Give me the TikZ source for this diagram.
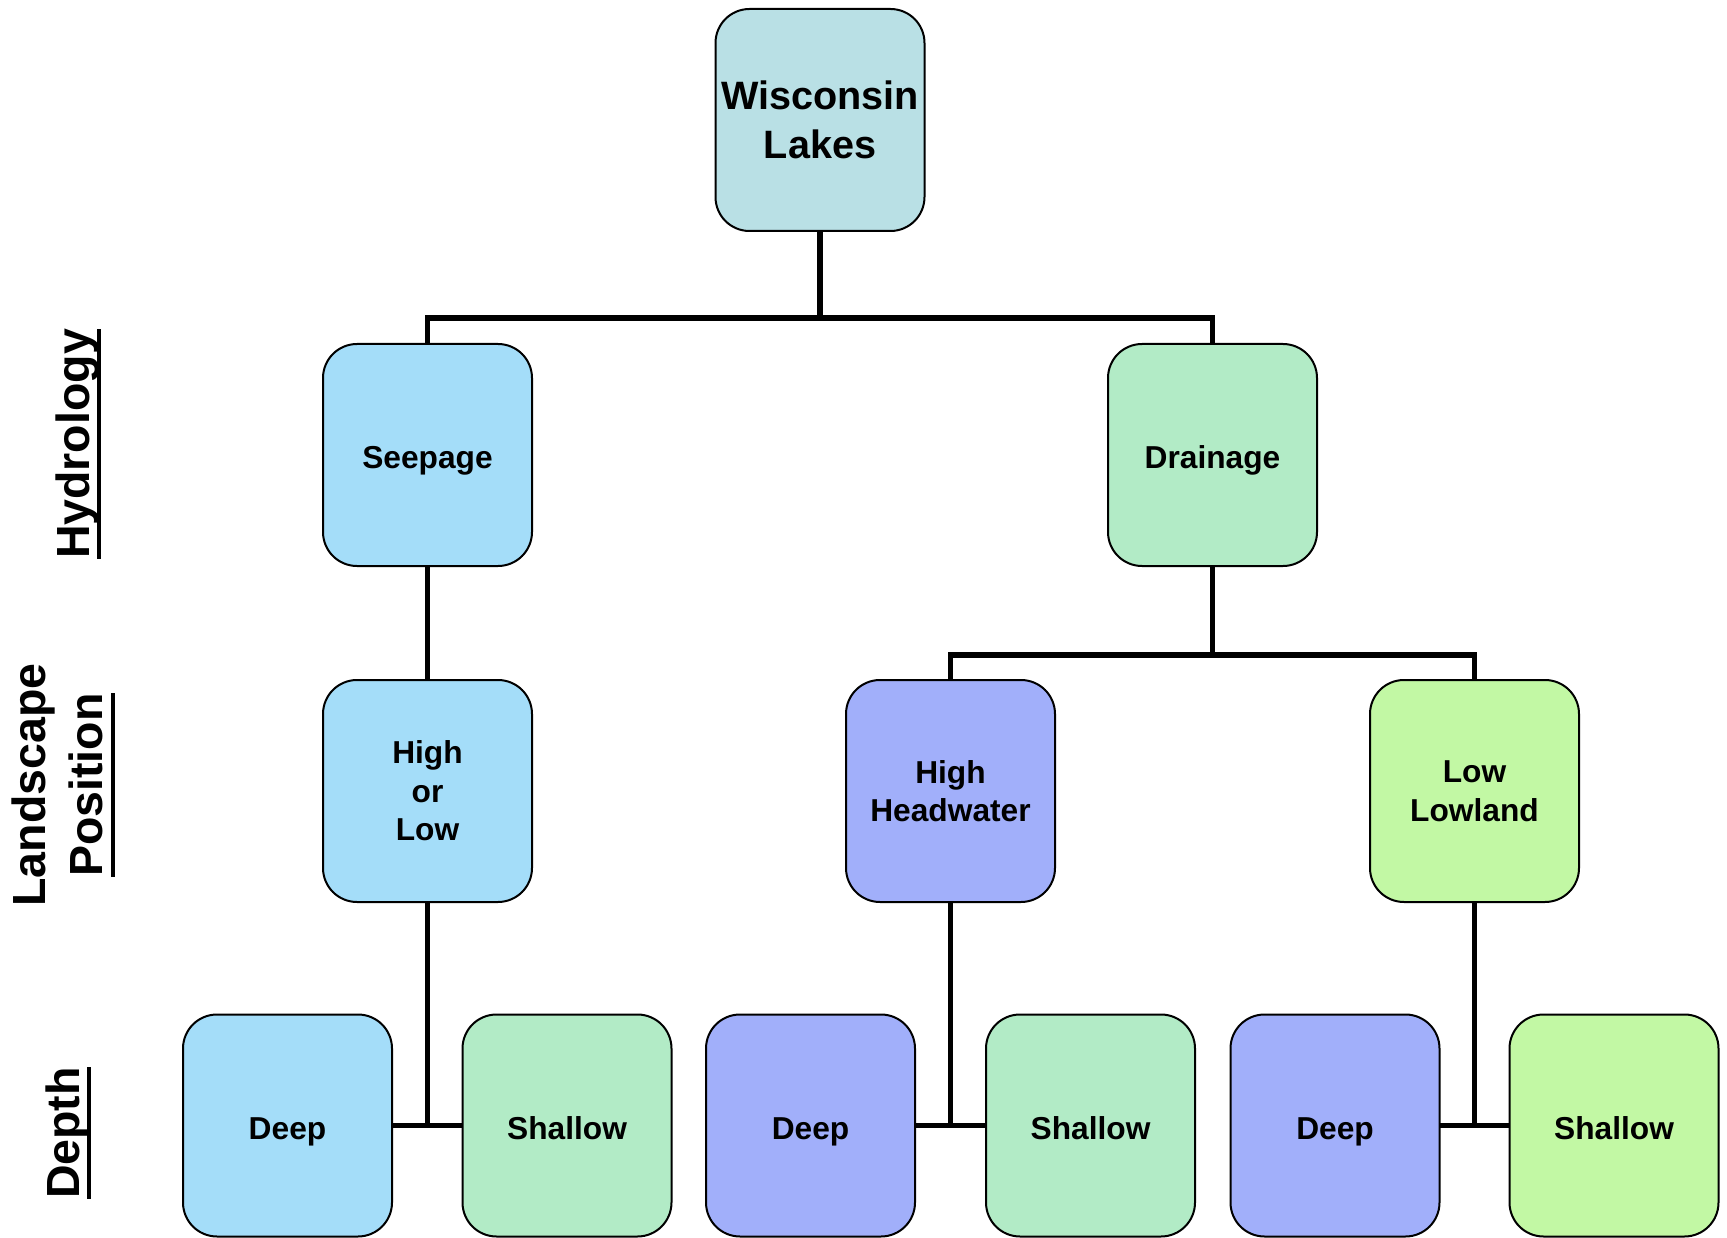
\documentclass[tikz,border=0pt]{standalone}
\usepackage{fontspec}
\setmainfont{Liberation Sans}
\usetikzlibrary{calc}
\definecolor{cWis}{HTML}{B9E0E5}
\definecolor{cSeep}{HTML}{A4DDF9}
\definecolor{cDrain}{HTML}{B2EBC6}
\definecolor{cHigh}{HTML}{A1AFFA}
\definecolor{cLow}{HTML}{C2F8A4}
\newcommand\myul[1]{\setbox0\hbox{#1}\rlap{\rule[-12pt]{\wd0}{4pt}}\box0}
\begin{document}
\begin{tikzpicture}[x=1pt,y=-1pt,
  box/.style={draw=black, line width=2pt, rounded corners=34pt,
    minimum width=209pt, minimum height=222pt, inner sep=0pt, outer sep=0pt,
    align=center, font=\bfseries\fontsize{31.7}{38.5}\selectfont},
  oneline/.style={text height=27.4pt, text depth=0pt},
  conn/.style={line width=5.5pt},
  side/.style={rotate=90, align=center, inner sep=0pt,
    font=\bfseries\fontsize{46.5}{57}\selectfont}]
\useasboundingbox (0,0) rectangle (1727,1238);
% level 1
\node[box, fill=cWis, font=\bfseries\fontsize{39.6}{48.5}\selectfont] (wis) at (820,120) {Wisconsin\\Lakes};
% level 2
\node[box, oneline, fill=cSeep] (seep) at (427.5,455) {Seepage};
\node[box, oneline, fill=cDrain] (drain) at (1212.5,455) {Drainage};
% level 3
\node[box, fill=cSeep] (hol) at (427.5,791) {High\\or\\Low};
\node[box, fill=cHigh] (hh) at (950.5,791) {High\\Headwater};
\node[box, fill=cLow] (ll) at (1474.5,791) {Low\\Lowland};
% level 4
\node[box, oneline, fill=cSeep] (d1) at (287.5,1125.5) {Deep};
\node[box, oneline, fill=cDrain] (s1) at (567,1125.5) {Shallow};
\node[box, oneline, fill=cHigh] (d2) at (810.5,1125.5) {Deep};
\node[box, oneline, fill=cDrain] (s2) at (1090.5,1125.5) {Shallow};
\node[box, oneline, fill=cHigh] (d3) at (1335,1125.5) {Deep};
\node[box, oneline, fill=cLow] (s3) at (1614,1125.5) {Shallow};
% connectors
\coordinate (bus1) at (820,318);
\coordinate (bus2) at (1212.5,655);
\draw[conn] (wis.south) -- (bus1);
\draw[conn] (seep.north) |- (bus1) -| (drain.north);
\draw[conn] (seep.south) -- (hol.north);
\draw[conn] (drain.south) -- (bus2);
\draw[conn] (hh.north) |- (bus2) -| (ll.north);
\draw[conn] (d1.east) -- (s1.west);
\draw[conn] (hol.south) -- (hol.south |- d1.east);
\draw[conn] (d2.east) -- (s2.west);
\draw[conn] (hh.south) -- (hh.south |- d2.east);
\draw[conn] (d3.east) -- (s3.west);
\draw[conn] (ll.south) -- (ll.south |- d3.east);
% side labels
\node[side, anchor=base] (hyd) at (89,444) {\myul{Hydrology}};
\node[side] (lp) at (63.5,785) {Landscape\\\myul{Position}};
\node[side, anchor=base] (dep) at (79,1133) {\myul{Depth}};
\end{tikzpicture}
\end{document}
